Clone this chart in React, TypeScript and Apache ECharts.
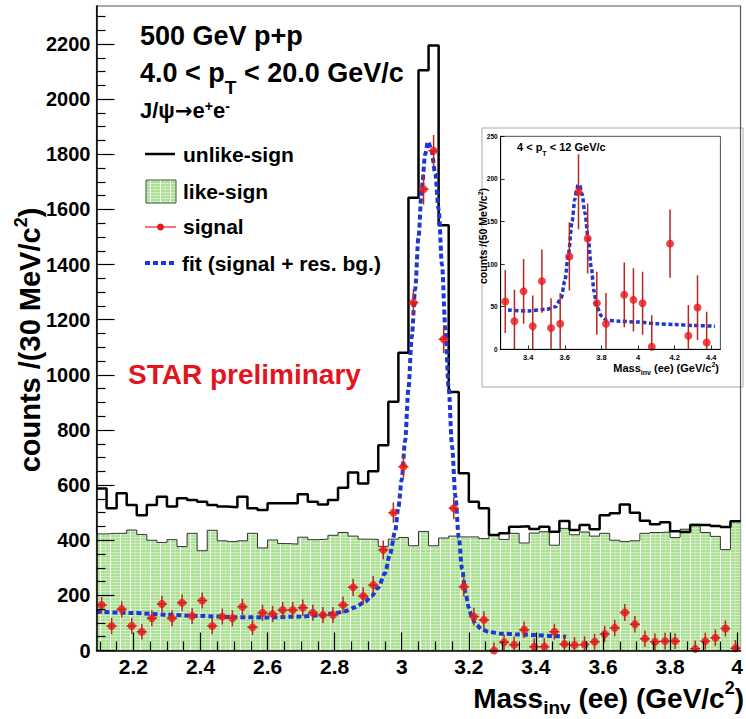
import React, { useEffect, useRef } from 'react';
import * as echarts from 'echarts';

const FONT = '"Liberation Sans", Arial, Helvetica, "DejaVu Sans", sans-serif';

// ---- main plot: 30 MeV bins starting at 2.09 GeV/c^2 ----
const binStart = 2.09;
const binWidth = 0.03;

const unlikeSign = [
  588, 516, 570, 528, 491, 528, 558, 522, 552, 546, 540, 528, 522, 520, 558, 516,
  510, 534, 534, 534, 567, 540, 530, 546, 590, 646, 606, 650, 745, 902, 1080, 1642,
  2105, 2195, 1543, 938, 643, 540, 516, 419, 425, 449, 451, 441, 449, 431, 470, 437,
  455, 440, 491, 498, 530, 500, 471, 458, 465, 433, 430, 455, 455, 452, 448, 469,
];

const likeSign = [
  423, 425, 425, 437, 421, 400, 392, 402, 377, 425, 362, 436, 398, 395, 398, 425,
  372, 401, 388, 386, 411, 402, 404, 418, 428, 415, 404, 403, 378, 404, 410, 380,
  432, 380, 408, 415, 412, 412, 406, 420, 403, 425, 390, 426, 431, 382, 443, 420,
  430, 415, 425, 400, 395, 398, 425, 428, 430, 410, 440, 458, 428, 414, 366, 468,
];

const signal = [
  165, 89, 150, 89, 68, 117, 169, 117, 173, 125, 181, 89, 123, 117, 159, 84,
  137, 132, 147, 147, 155, 137, 129, 129, 165, 229, 198, 238, 365, 500, 667, 1262,
  1673, 1813, 1129, 516, 231, 123, 111, 0, 30, 21, 75, 14, 14, 68, 23, 20,
  22, 32, 60, 82, 138, 95, 43, 32, 34, 34, null, 6, 34, 46, 80, 8,
];

const signalErr = [
  30, 29, 30, 29, 28, 29, 30, 29, 30, 29, 29, 29, 29, 29, 29, 28,
  29, 29, 29, 29, 30, 29, 29, 29, 30, 31, 31, 32, 34, 37, 40, 48,
  55, 57, 50, 40, 34, 32, 31, 29, 29, 30, 30, 30, 30, 29, 30, 29,
  30, 29, 30, 30, 31, 30, 30, 30, 30, 29, 30, 30, 30, 30, 29, 30,
];

const fitMass = [
  2.09, 2.2, 2.3, 2.4, 2.5, 2.6, 2.7, 2.76, 2.8, 2.83, 2.86, 2.89, 2.91, 2.93, 2.95,
  2.965, 2.98, 2.99, 3.0, 3.01, 3.02, 3.03, 3.04, 3.05, 3.06, 3.07, 3.078, 3.088,
  3.1, 3.11, 3.12, 3.13, 3.14, 3.15, 3.16, 3.17, 3.18, 3.19, 3.2, 3.21, 3.22, 3.24,
  3.26, 3.3, 3.35, 3.4, 3.45, 3.49,
];
const fitValue = [
  141, 136, 130, 125, 121, 120, 123, 128, 135, 142, 156, 176, 198, 228, 280,
  350, 430, 520, 620, 760, 950, 1140, 1310, 1500, 1680, 1800, 1846, 1820,
  1730, 1600, 1400, 1170, 950, 740, 560, 410, 295, 210, 155, 118, 95, 76,
  67, 61, 58, 56, 53, 50,
];

const xTickLabels = [2.2, 2.4, 2.6, 2.8, 3, 3.2, 3.4, 3.6, 3.8, 4];
const yTickLabels = [0, 200, 400, 600, 800, 1000, 1200, 1400, 1600, 1800, 2000, 2200];

// ---- inset (psi(2S) region): 50 MeV bins starting at 3.25 ----
const insetStart = 3.25;
const insetWidth = 0.05;
const insetSignal = [56, 33, 68, 27, 80, 25, 30, 109, 185, 130, 54, 30, null, 64, 58, 54, 3, null, 124, null, 16, 49, 8, null];
const insetErr = [37, 37, 38, 36, 37, 35, 36, 40, 44, 41, 37, 36, null, 38, 37, 37, 37, null, 40, null, 36, 38, 36, null];
const insetFitMass = [
  3.29, 3.4, 3.5, 3.55, 3.58, 3.6, 3.62, 3.64, 3.655, 3.665, 3.673, 3.682, 3.695, 3.71, 3.728,
  3.745, 3.76, 3.775, 3.8, 3.83, 3.9, 4.0, 4.1, 4.2, 4.3, 4.42,
];
const insetFitValue = [
  46, 45, 47, 50, 60, 80, 112, 150, 176, 188, 193, 192, 182, 160, 130,
  95, 68, 50, 39, 34, 33, 32, 30, 29, 28, 27,
];
const insetXTicks = [3.4, 3.6, 3.8, 4, 4.2, 4.4];
const insetYTicks = [0, 50, 100, 150, 200, 250];

function stepData(vals: number[]) {
  const d: number[][] = vals.map((v, i) => [+(binStart + i * binWidth).toFixed(4), v]);
  d.push([+(binStart + vals.length * binWidth).toFixed(4), vals[vals.length - 1]]);
  return d;
}

function makePattern() {
  const c = document.createElement('canvas');
  c.width = 10;
  c.height = 3;
  const ctx = c.getContext('2d')!;
  ctx.fillStyle = '#abe092';
  ctx.fillRect(0, 0, 10, 3);
  ctx.fillStyle = '#d0efc3';
  ctx.fillRect(0, 0, 10, 1);
  ctx.fillStyle = '#c0e8ae';
  ctx.fillRect(5, 1, 1, 2);
  ctx.fillStyle = '#ffffff';
  ctx.fillRect(0, 0, 1, 3);
  return { image: c.toDataURL(), repeat: 'repeat', imageWidth: 10, imageHeight: 3 };
}

function errorBars(xIdx: number, yIdx: number, halfW: number, color: string, z: number, data: any[]) {
  return {
    type: 'custom',
    xAxisIndex: xIdx,
    yAxisIndex: yIdx,
    z,
    clip: true,
    silent: true,
    data,
    encode: { x: 0, y: 1 },
    renderItem: (_p: any, api: any) => {
      const x = api.value(0);
      const y = api.value(1);
      const e = api.value(2);
      const top = api.coord([x, y + e]);
      const bot = api.coord([x, y - e]);
      const l = api.coord([x - halfW, y]);
      const r = api.coord([x + halfW, y]);
      return {
        type: 'group',
        children: [
          { type: 'line', shape: { x1: top[0], y1: top[1], x2: bot[0], y2: bot[1] }, style: { stroke: color, lineWidth: 1.5 } },
          { type: 'line', shape: { x1: l[0], y1: l[1], x2: r[0], y2: r[1] }, style: { stroke: color, lineWidth: 1.5 } },
        ],
      };
    },
  };
}

export default function App() {
  const ref = useRef<HTMLDivElement>(null);

  useEffect(() => {
    if (!ref.current) return;
    const chart = echarts.init(ref.current, null, { renderer: 'svg' });
    const pattern = makePattern();

    const xMinor: number[] = [];
    for (let i = 0; i <= 38; i++) {
      const v = Math.round((2.1 + i * 0.05) * 100) / 100;
      if (Math.round(v * 100) % 20 !== 0) xMinor.push(v);
    }
    const yMinor: number[] = [];
    for (let v = 50; v <= 2300; v += 50) if (v % 200 !== 0) yMinor.push(v);

    const sigPts = signal
      .map((v, i) => (v == null ? null : [+(binStart + (i + 0.5) * binWidth).toFixed(4), v, signalErr[i]]))
      .filter((d) => d != null);
    const insetPts = insetSignal
      .map((v, i) => (v == null ? null : [+(insetStart + (i + 0.5) * insetWidth).toFixed(4), v, insetErr[i] as number]))
      .filter((d) => d != null);

    const lbl = (size: number, margin: number, custom: number[]) => ({
      show: true,
      customValues: custom,
      fontSize: size,
      fontWeight: 'bold',
      fontFamily: FONT,
      color: '#000',
      margin,
      formatter: (v: number) => String(v),
    });

    const option: any = {
      animation: false,
      backgroundColor: '#ffffff',
      grid: [
        { left: 96.5, top: 6, width: 645, height: 644.5, show: true, borderColor: '#555', borderWidth: 1.2 },
        { left: 500.7, top: 136.3, width: 219.7, height: 213, show: true, borderColor: '#222', borderWidth: 0.8 },
      ],
      xAxis: [
        {
          type: 'value', gridIndex: 0, position: 'bottom', min: 2.09, max: 4.01, z: 10,
          axisLine: { show: true, onZero: false, lineStyle: { color: '#000', width: 1.5 } },
          axisTick: { show: true, inside: true, length: 18, customValues: xTickLabels, lineStyle: { color: '#000', width: 1.2 } },
          axisLabel: lbl(21, 5, xTickLabels),
          splitLine: { show: false },
        },
        {
          type: 'value', gridIndex: 0, position: 'bottom', min: 2.09, max: 4.01, z: 10,
          axisLine: { show: false, onZero: false },
          axisTick: { show: true, inside: true, length: 9, customValues: xMinor, lineStyle: { color: '#000', width: 1.2 } },
          axisLabel: { show: false },
          splitLine: { show: false },
        },
        {
          type: 'value', gridIndex: 1, position: 'bottom', min: 3.25, max: 4.45, z: 10,
          axisLine: { show: true, onZero: false, lineStyle: { color: '#000', width: 1 } },
          axisTick: { show: true, inside: true, length: 4, customValues: insetXTicks, lineStyle: { color: '#000', width: 0.8 } },
          axisLabel: lbl(7.5, 4, insetXTicks),
          splitLine: { show: false },
        },
      ],
      yAxis: [
        {
          type: 'value', gridIndex: 0, position: 'left', min: 0, max: 2338, z: 10,
          axisLine: { show: true, onZero: false, lineStyle: { color: '#000', width: 1.5 } },
          axisTick: { show: true, inside: true, length: 18, customValues: yTickLabels, lineStyle: { color: '#000', width: 1.2 } },
          axisLabel: lbl(20, 6, yTickLabels),
          splitLine: { show: false },
        },
        {
          type: 'value', gridIndex: 0, position: 'left', min: 0, max: 2338, z: 10,
          axisLine: { show: false, onZero: false },
          axisTick: { show: true, inside: true, length: 9, customValues: yMinor, lineStyle: { color: '#000', width: 1.2 } },
          axisLabel: { show: false },
          splitLine: { show: false },
        },
        {
          type: 'value', gridIndex: 1, position: 'left', min: 0, max: 250, z: 10,
          axisLine: { show: true, onZero: false, lineStyle: { color: '#000', width: 1 } },
          axisTick: { show: true, inside: true, length: 4, customValues: insetYTicks, lineStyle: { color: '#000', width: 0.8 } },
          axisLabel: lbl(6.5, 3, insetYTicks),
          splitLine: { show: false },
        },
      ],
      series: [
        {
          name: 'like-sign', type: 'line', step: 'end', xAxisIndex: 0, yAxisIndex: 0, z: 1,
          data: stepData(likeSign), symbol: 'none',
          lineStyle: { color: '#333', width: 1 },
          areaStyle: { color: pattern, opacity: 1 },
        },
        {
          name: 'unlike-sign', type: 'line', step: 'end', xAxisIndex: 0, yAxisIndex: 0, z: 3,
          data: stepData(unlikeSign), symbol: 'none',
          lineStyle: { color: '#000', width: 2.5 },
        },
        {
          name: 'fit', type: 'line', xAxisIndex: 0, yAxisIndex: 0, z: 4,
          data: fitMass.map((m, i) => [m, fitValue[i]]), symbol: 'none', smooth: 0.3, smoothMonotone: 'x',
          lineStyle: { color: '#1d37d4', width: 4, type: [5, 3] },
        },
        errorBars(0, 0, binWidth / 2, '#b8281c', 5, sigPts),
        {
          name: 'signal', type: 'scatter', xAxisIndex: 0, yAxisIndex: 0, z: 6, clip: false,
          data: sigPts.map((d: any) => [d[0], d[1]]), symbol: 'circle', symbolSize: 8,
          itemStyle: { color: '#e8161b' },
        },
        {
          name: 'inset fit', type: 'line', xAxisIndex: 2, yAxisIndex: 2, z: 4,
          data: insetFitMass.map((m, i) => [m, insetFitValue[i]]), symbol: 'none', smooth: 0.3, smoothMonotone: 'x',
          lineStyle: { color: '#1d37d4', width: 3.5, type: [4, 2.5] },
        },
        errorBars(2, 2, 0, '#b02a22', 5, insetPts),
        {
          name: 'inset signal', type: 'scatter', xAxisIndex: 2, yAxisIndex: 2, z: 6, clip: false,
          data: insetPts.map((d: any) => [d[0], d[1]]), symbol: 'circle', symbolSize: 8,
          itemStyle: { color: '#e8161b' },
        },
      ],
      graphic: {
        elements: [
          { type: 'rect', z: -1, silent: true, shape: { x: 482, y: 128, width: 261, height: 259 }, style: { fill: '#fff', stroke: '#aaa', lineWidth: 1 } },
          {
            type: 'text', x: 140, y: 35.5, z: 10,
            style: { text: '500 GeV p+p', font: `bold 27px ${FONT}`, fill: '#000', align: 'left', verticalAlign: 'middle' },
          },
          {
            type: 'text', x: 140, y: 72.6, z: 10,
            style: {
              text: '{a|4.0 < p}{b|T}{a| < 20.0 GeV/c}', align: 'left', verticalAlign: 'middle',
              rich: {
                a: { fontSize: 27, fontWeight: 'bold', fontFamily: FONT, fill: '#000', lineHeight: 49 },
                b: { fontSize: 19, fontWeight: 'bold', fontFamily: FONT, fill: '#000', lineHeight: 19, verticalAlign: 'bottom' },
              },
            },
          },
          {
            type: 'text', x: 140, y: 110.5, z: 10,
            style: {
              text: '{a|J/ψ}{r|→}{a|e}{s|+}{a|e}{s|-}', align: 'left', verticalAlign: 'middle',
              rich: {
                a: { fontSize: 22, fontWeight: 'bold', fontFamily: FONT, fill: '#000', lineHeight: 24 },
                r: { fontSize: 21, fontWeight: 'bold', fontFamily: '"DejaVu Sans", sans-serif', fill: '#000', lineHeight: 24 },
                s: { fontSize: 14, fontWeight: 'bold', fontFamily: FONT, fill: '#000', lineHeight: 14, verticalAlign: 'top' },
              },
            },
          },
          // legend
          { type: 'line', z: 10, shape: { x1: 145, y1: 154, x2: 175, y2: 154 }, style: { stroke: '#000', lineWidth: 2.5 } },
          { type: 'text', x: 183, y: 154, z: 10, style: { text: 'unlike-sign', font: `bold 21px ${FONT}`, fill: '#000', align: 'left', verticalAlign: 'middle' } },
          { type: 'rect', z: 10, shape: { x: 146, y: 180, width: 30, height: 23 }, style: { fill: pattern, stroke: '#3a5a3a', lineWidth: 1 } },
          { type: 'text', x: 183, y: 191, z: 10, style: { text: 'like-sign', font: `bold 21px ${FONT}`, fill: '#000', align: 'left', verticalAlign: 'middle' } },
          { type: 'line', z: 10, shape: { x1: 145, y1: 227, x2: 176, y2: 227 }, style: { stroke: '#e0201a', lineWidth: 1.2 } },
          { type: 'circle', z: 11, shape: { cx: 160.5, cy: 227, r: 3.5 }, style: { fill: '#e8161b' } },
          { type: 'text', x: 183, y: 226, z: 10, style: { text: 'signal', font: `bold 21px ${FONT}`, fill: '#000', align: 'left', verticalAlign: 'middle' } },
          { type: 'line', z: 10, shape: { x1: 145, y1: 263, x2: 176, y2: 263 }, style: { stroke: '#1d37d4', lineWidth: 4, lineDash: [5, 3] } },
          { type: 'text', x: 182, y: 263, z: 10, style: { text: 'fit (signal + res. bg.)', font: `bold 21px ${FONT}`, fill: '#000', align: 'left', verticalAlign: 'middle' } },
          {
            type: 'text', x: 128, y: 374, z: 10,
            style: { text: 'STAR preliminary', font: `bold 28px ${FONT}`, fill: '#e3141d', align: 'left', verticalAlign: 'middle' },
          },
          // main axis titles
          {
            type: 'text', x: 30, y: 340, z: 10, rotation: Math.PI / 2,
            style: {
              text: '{a|counts /(30 MeV/c}{s|2}{a|)}', align: 'center', verticalAlign: 'middle',
              rich: {
                a: { fontSize: 29, fontWeight: 'bold', fontFamily: FONT, fill: '#000', lineHeight: 36 },
                s: { fontSize: 18, fontWeight: 'bold', fontFamily: FONT, fill: '#000', lineHeight: 26, verticalAlign: 'top' },
              },
            },
          },
          {
            type: 'text', x: 744, y: 698, z: 10,
            style: {
              text: '{a|Mass}{b|inv}{a| (ee) (GeV/c}{c|2}{a|)}', align: 'right', verticalAlign: 'middle',
              rich: {
                a: { fontSize: 28, fontWeight: 'bold', fontFamily: FONT, fill: '#000', lineHeight: 38 },
                b: { fontSize: 19, fontWeight: 'bold', fontFamily: FONT, fill: '#000', lineHeight: 19, verticalAlign: 'bottom' },
                c: { fontSize: 18, fontWeight: 'bold', fontFamily: FONT, fill: '#000', lineHeight: 28, verticalAlign: 'top' },
              },
            },
          },
          // inset texts
          {
            type: 'text', x: 517, y: 147, z: 10,
            style: {
              text: '{a|4 < p}{b|T}{a| < 12 GeV/c}', align: 'left', verticalAlign: 'middle',
              rich: {
                a: { fontSize: 11, fontWeight: 'bold', fontFamily: FONT, fill: '#000', lineHeight: 20 },
                b: { fontSize: 7, fontWeight: 'bold', fontFamily: FONT, fill: '#000', lineHeight: 7, verticalAlign: 'bottom' },
              },
            },
          },
          {
            type: 'text', x: 483, y: 236, z: 10, rotation: Math.PI / 2,
            style: {
              text: '{a|counts /(50 MeV/c}{s|2}{a|)}', align: 'center', verticalAlign: 'middle',
              rich: {
                a: { fontSize: 10.5, fontWeight: 'bold', fontFamily: FONT, fill: '#000', lineHeight: 13 },
                s: { fontSize: 7, fontWeight: 'bold', fontFamily: FONT, fill: '#000', lineHeight: 9, verticalAlign: 'top' },
              },
            },
          },
          {
            type: 'text', x: 719, y: 368, z: 10,
            style: {
              text: '{a|Mass}{b|inv}{a| (ee) (GeV/c}{c|2}{a|)}', align: 'right', verticalAlign: 'middle',
              rich: {
                a: { fontSize: 11, fontWeight: 'bold', fontFamily: FONT, fill: '#000', lineHeight: 15 },
                b: { fontSize: 7, fontWeight: 'bold', fontFamily: FONT, fill: '#000', lineHeight: 7, verticalAlign: 'bottom' },
                c: { fontSize: 7, fontWeight: 'bold', fontFamily: FONT, fill: '#000', lineHeight: 11, verticalAlign: 'top' },
              },
            },
          },
        ],
      },
    };

    chart.setOption(option);
    return () => chart.dispose();
  }, []);

  return <div ref={ref} style={{ position: 'fixed', left: 0, top: 0, width: 746, height: 719 }} />;
}
